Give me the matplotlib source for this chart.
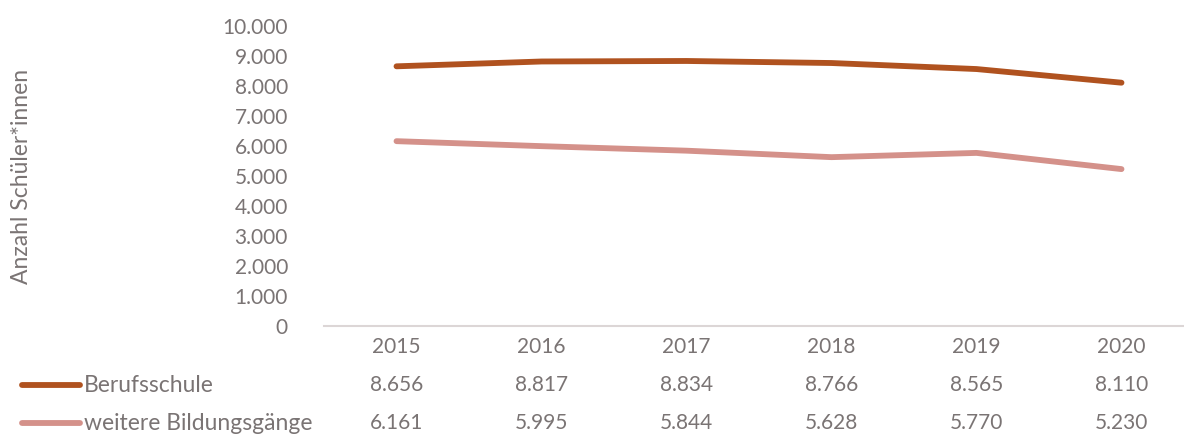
import numpy as np
import matplotlib.pyplot as plt
from matplotlib.ticker import FuncFormatter
import matplotlib.transforms as mtransforms

plt.rcParams['font.family'] = ['Lato', 'DejaVu Sans']

# data
years = ['2015', '2016', '2017', '2018', '2019', '2020']
berufsschule = [8656, 8817, 8834, 8766, 8565, 8110]
weitere = [6161, 5995, 5844, 5628, 5770, 5230]
series_names = ['Berufsschule', 'weitere Bildungsgänge']
series_colors = ['#b0521f', '#d4918a']

txt = '#7a7474'
num_fs = 15
lab_fs = 16.5


def de_fmt(v):
    return f'{int(round(v)):,}'.replace(',', '.')


fig = plt.figure(figsize=(11.84, 4.34), dpi=100)
# plot area runs past the right edge of the figure
ax = fig.add_axes([324 / 1184, 1 - 326 / 434, 870 / 1184, 300 / 434])

x = np.arange(len(years))
for vals, col in zip([berufsschule, weitere], series_colors):
    ax.plot(x, vals, color=col, lw=4.2, solid_capstyle='round', solid_joinstyle='round')

ax.set_xlim(-0.5, len(years) - 0.5)
ax.set_ylim(0, 10000)
ax.set_yticks(np.arange(0, 10001, 1000))
ax.yaxis.set_major_formatter(FuncFormatter(lambda v, p: de_fmt(v)))
ax.tick_params(axis='y', length=0, pad=26, labelsize=num_fs, labelcolor=txt)
ax.set_xticks([])
for s in ['top', 'right', 'left']:
    ax.spines[s].set_visible(False)
ax.spines['bottom'].set_color('#dcd6d6')
ax.spines['bottom'].set_linewidth(1.5)

fig.text(22 / 1184, 1 - 176 / 434, 'Anzahl Schüler*innen', rotation=90,
         ha='center', va='center', fontsize=lab_fs, color=txt)

# data table under the chart
trans = mtransforms.blended_transform_factory(ax.transData, fig.transFigure)
for i, yr in enumerate(years):
    fig.text(i, 1 - 347 / 434, yr, transform=trans, ha='center', va='center',
             fontsize=num_fs, color=txt)

row_y = [385, 423]
for vals, name, col, ry in zip([berufsschule, weitere], series_names, series_colors, row_y):
    yf = 1 - ry / 434
    fig.add_artist(plt.Line2D([22 / 1184, 80 / 1184], [yf, yf], color=col, lw=4.2,
                              solid_capstyle='round'))
    fig.text(84 / 1184, yf, name, ha='left', va='center', fontsize=lab_fs, color=txt)
    for i, v in enumerate(vals):
        fig.text(i, yf, de_fmt(v), transform=trans, ha='center', va='center',
                 fontsize=num_fs, color=txt)

fig.savefig('out.png', dpi=100)
